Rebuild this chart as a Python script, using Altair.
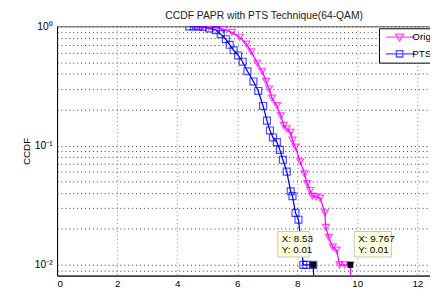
import altair as alt
import pandas as pd

# ---- data ----
orig_x = [4.58, 4.75, 4.87, 5.05, 5.29, 5.55, 5.82, 6.08, 6.31, 6.47, 6.67, 6.83, 6.96,
          7.06, 7.16, 7.32, 7.45, 7.55, 7.65, 7.78, 7.84, 7.94, 8.10, 8.24, 8.33, 8.43,
          8.50, 8.63, 8.76, 8.92, 8.95, 9.05, 9.18, 9.31, 9.41, 9.58, 9.767, 9.80]
orig_y = [1.0, 1.0, 1.0, 0.99, 0.98, 0.94, 0.89, 0.81, 0.71, 0.61, 0.49, 0.42, 0.346,
          0.298, 0.25, 0.216, 0.178, 0.148, 0.138, 0.129, 0.111, 0.097, 0.073, 0.058, 0.048, 0.042,
          0.0377, 0.0371, 0.0363, 0.0273, 0.0206, 0.017, 0.0141, 0.0133, 0.01, 0.01, 0.01, 0.004]

pts_x = [4.40, 4.55, 4.70, 4.85, 5.07, 5.29, 5.45, 5.62, 5.75, 5.88, 6.03, 6.18, 6.34,
         6.54, 6.70, 6.86, 6.99, 7.09, 7.19, 7.32, 7.42, 7.52, 7.65, 7.78, 7.84, 7.94,
         8.04, 8.20, 8.30, 8.53, 8.60]
pts_y = [1.0, 1.0, 1.0, 0.99, 0.96, 0.93, 0.86, 0.78, 0.70, 0.63, 0.57, 0.505, 0.42,
         0.345, 0.287, 0.215, 0.162, 0.134, 0.117, 0.107, 0.092, 0.076, 0.0605, 0.0414, 0.0377, 0.0273,
         0.0239, 0.01, 0.01, 0.01, 0.004]

series_names = ["Original", "PTS"]
series_colors = ["#ff00ff", "#0000ff"]
series_shapes = ["triangle-down", "square"]
# legend glyphs: a short line with the marker in its middle
legend_glyphs = ["M-0.4,0L5.6,0M1.6,-0.6L3.2,-0.6L2.4,0.8Z",
                 "M-0.4,0L5.6,0M1.75,-0.65L3.05,-0.65L3.05,0.65L1.75,0.65Z"]

tip_x = [8.53, 9.767]
tip_y = [0.01, 0.01]

x_ticks = [0, 2, 4, 6, 8, 10, 12]
y_ticks = [0.009, 0.01, 0.02, 0.03, 0.04, 0.05, 0.06, 0.07, 0.08, 0.09,
           0.1, 0.2, 0.3, 0.4, 0.5, 0.6, 0.7, 0.8, 0.9, 1.0]

FONT = "Liberation Sans"

df = pd.concat([
    pd.DataFrame({"x": orig_x, "y": orig_y, "series": "Original", "i": range(len(orig_x))}),
    pd.DataFrame({"x": pts_x, "y": pts_y, "series": "PTS", "i": range(len(pts_x))}),
])

xs = alt.Scale(domain=[0, 12.42], nice=False, zero=False)
ys = alt.Scale(type="log", domain=[0.00813, 1], nice=False)

x_enc = alt.X("x:Q", scale=xs, title="PAPR[dB]",
              axis=alt.Axis(values=x_ticks, format="d", grid=True, ticks=False,
                            gridDash=[1, 3], gridColor="#888", domainColor="#000",
                            labelFont=FONT, labelFontSize=10, labelColor="#000",
                            labelPadding=3, titleFont=FONT, titleFontSize=10,
                            titleFontWeight="normal", titlePadding=2))
y_enc = alt.Y("y:Q", scale=ys, title="CCDF",
              axis=alt.Axis(values=y_ticks, grid=True, ticks=False,
                            gridDash=[1, 3], gridColor="#333", domainColor="#000",
                            labelExpr="datum.value == 1 ? '10⁰' : datum.value == 0.1 ? '10⁻¹' : datum.value == 0.01 ? '10⁻²' : ''",
                            labelFont=FONT, labelFontSize=10.5, labelColor="#000",
                            labelPadding=5, titleFont=FONT, titleFontSize=10,
                            titleFontWeight="normal", titlePadding=2))

color_scale = alt.Scale(domain=series_names, range=series_colors)

line = alt.Chart(df).mark_line(strokeWidth=1.3, clip=True).encode(
    x=x_enc, y=y_enc, order="i:Q",
    color=alt.Color("series:N", scale=color_scale, legend=None),
)

points = alt.Chart(df).mark_point(size=50, strokeWidth=1.2, filled=False, clip=True).encode(
    x=x_enc, y=y_enc,
    shape=alt.Shape("series:N", scale=alt.Scale(domain=series_names, range=series_shapes),
                    legend=None),
    stroke=alt.Stroke("series:N", scale=color_scale, legend=None),
)

leg = alt.Legend(title=None, orient="none", legendX=328, legendY=2,
                 symbolSize=100, symbolStrokeWidth=1.3, symbolFillColor="transparent",
                 fillColor="white", strokeColor="#000", padding=3,
                 labelFont=FONT, labelFontSize=10, labelColor="#000",
                 rowPadding=4, labelOffset=19)

legend_layer = alt.Chart(df).transform_filter("datum.x < 0").mark_point(
    filled=False, size=100, strokeWidth=1.3).encode(
    x=alt.X("x:Q", scale=xs), y=alt.Y("y:Q", scale=ys),
    shape=alt.Shape("series:N", scale=alt.Scale(domain=series_names, range=legend_glyphs), legend=leg),
    stroke=alt.Stroke("series:N", scale=alt.Scale(domain=series_names, range=series_colors), legend=leg),
)

tips = pd.DataFrame({"x": tip_x, "y": tip_y})
tips["lx"] = tips["x"].map(lambda v: f"X: {v:g}")
tips["ly"] = tips["y"].map(lambda v: f"Y: {v:g}")
t1 = tips.iloc[[0]]
t2 = tips.iloc[[1]]

def tip_layers(d, x0, x1, tdx):
    box = alt.Chart(d).mark_rect(fill="#ffffe1", stroke="#c8c8b4", strokeWidth=1,
                                 xOffset=x0, x2Offset=x1, yOffset=-34, y2Offset=-8).encode(
        x=alt.X("x:Q", scale=xs), x2="x:Q", y=alt.Y("y:Q", scale=ys), y2="y:Q")
    tx = alt.Chart(d).mark_text(align="left", baseline="middle", dx=tdx, dy=-26,
                                font=FONT, fontSize=10, color="#000").encode(
        x=alt.X("x:Q", scale=xs), y=alt.Y("y:Q", scale=ys), text="lx:N")
    ty = alt.Chart(d).mark_text(align="left", baseline="middle", dx=tdx, dy=-15,
                                font=FONT, fontSize=10, color="#000").encode(
        x=alt.X("x:Q", scale=xs), y=alt.Y("y:Q", scale=ys), text="ly:N")
    return [box, tx, ty]

sq = alt.Chart(tips).mark_square(size=36, color="#000", opacity=1).encode(
    x=alt.X("x:Q", scale=xs), y=alt.Y("y:Q", scale=ys))

chart = alt.layer(line, points, legend_layer, *tip_layers(t1, -36, -4, -32),
                  *tip_layers(t2, 4, 42, 8), sq).resolve_scale(
    color="independent", stroke="independent", shape="independent"
).properties(
    width=380, height=254,
    autosize=alt.AutoSizeParams(type="none"),
    padding={"left": 50, "top": 16, "right": 0, "bottom": 12},
    title=alt.TitleParams("CCDF PAPR with PTS Technique(64-QAM)", font=FONT, fontSize=10.5,
                          fontWeight="normal", color="#222", anchor="middle", dx=21,
                          baseline="alphabetic", offset=-8, frame="group"),
    background="white",
).configure_view(stroke="#555", strokeWidth=1)

chart.save("out.html", embed_options={"renderer": "svg", "actions": False})
